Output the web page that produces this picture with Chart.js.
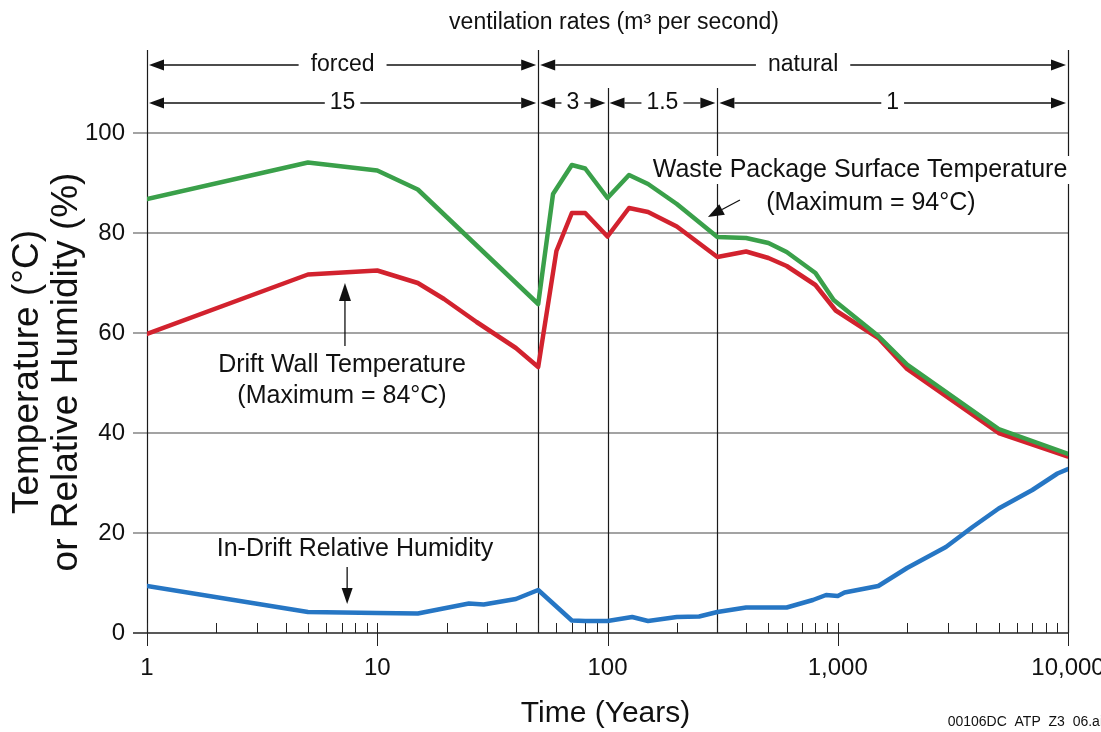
<!DOCTYPE html>
<html>
<head>
<meta charset="utf-8">
<script src="https://cdn.jsdelivr.net/npm/chart.js@4.4.0/dist/chart.umd.min.js"></script>
<style>
  html, body { margin: 0; padding: 0; background: #fff; }
  #wrap { width: 1101px; height: 732px; }
</style>
</head>
<body>
<div id="wrap"><canvas id="chart" width="1101" height="732"></canvas></div>
<script>
// Waste package surface temperature (deg C) vs time (years)
const wasteYears = [1, 5, 10, 15, 50, 58, 70, 80, 100, 124, 150, 200, 300, 400, 500, 600, 800, 960, 1500, 2000, 5000, 10000];
const wasteTemp  = [86.8, 94.1, 92.5, 88.7, 65.8, 87.8, 93.6, 92.9, 87.0, 91.6, 89.8, 85.8, 79.2, 79.0, 78.0, 76.2, 72.0, 66.6, 59.4, 53.7, 40.8, 35.8];

// Drift wall temperature (deg C)
const wallYears = [1, 5, 10, 15, 19.5, 27, 40, 50, 60, 70, 80, 100, 124, 150, 200, 300, 400, 500, 600, 800, 980, 1500, 2000, 5000, 10000];
const wallTemp  = [59.8, 71.7, 72.5, 70.0, 66.8, 62.2, 57.0, 53.2, 76.4, 84.0, 84.0, 79.3, 85.0, 84.2, 81.3, 75.2, 76.3, 75.0, 73.4, 69.6, 64.5, 59.0, 52.8, 40.0, 35.3];

// In-drift relative humidity (%)
const rhYears = [1, 5, 10, 15, 25, 29, 40, 50, 70, 80, 100, 128, 150, 200, 250, 300, 400, 600, 780, 890, 1000, 1070, 1500, 2000, 2950, 3850, 5000, 7000, 9000, 10000];
const rhValue = [9.4, 4.2, 4.0, 3.9, 5.9, 5.7, 6.8, 8.6, 2.5, 2.4, 2.4, 3.2, 2.4, 3.2, 3.3, 4.2, 5.1, 5.1, 6.6, 7.6, 7.4, 8.1, 9.4, 13.0, 17.2, 21.2, 24.9, 28.6, 31.9, 32.8];

const xTickValues = [1, 10, 100, 1000, 10000];
const xTickLabels = ['1', '10', '100', '1,000', '10,000'];
const yTickValues = [0, 20, 40, 60, 80, 100];

// ventilation regimes and rates (m3/s) with their time boundaries
const regimeNames  = ['forced', 'natural'];
const regimeBounds = [1, 50, 10000];
const rateNames    = ['15', '3', '1.5', '1'];
const rateBounds   = [1, 50, 100, 300, 10000];

const FONT = '"Liberation Sans", Arial, Helvetica, sans-serif';
const WASTE_LINE1 = 'Waste Package Surface Temperature';
const WASTE_LINE2 = '(Maximum = 94°C)';

function toPoints(xs, ys) {
    return xs.map((t, i) => ({ x: t, y: ys[i] }));
}

// filled arrow head at (x2, y2), shaft from (x1, y1)
function drawArrow(ctx, x1, y1, x2, y2, headLen = 15, headHalf = 5.5) {
    const ang = Math.atan2(y2 - y1, x2 - x1);
    const bx = x2 - headLen * Math.cos(ang);
    const by = y2 - headLen * Math.sin(ang);
    ctx.beginPath();
    ctx.moveTo(x1, y1);
    ctx.lineTo(bx, by);
    ctx.stroke();
    ctx.beginPath();
    ctx.moveTo(x2, y2);
    ctx.lineTo(bx + headHalf * Math.sin(ang), by - headHalf * Math.cos(ang));
    ctx.lineTo(bx - headHalf * Math.sin(ang), by + headHalf * Math.cos(ang));
    ctx.closePath();
    ctx.fill();
}

// a labelled span between two times: <---- label ---->
function drawSpan(ctx, xScale, t0, t1, label, py) {
    const xa = xScale.getPixelForValue(t0) + 2;
    const xb = xScale.getPixelForValue(t1) - 2;
    const cx = (xa + xb) / 2;
    const w = ctx.measureText(label).width;
    const gap = label.length > 3 ? 12 : 5;
    ctx.fillText(label, cx, py);
    drawArrow(ctx, cx - w / 2 - gap, py, xa, py);
    drawArrow(ctx, cx + w / 2 + gap, py, xb, py);
}

function wasteLabelPos(x, y) {
    return {
        x1: x.getPixelForValue(1250), y1: y.getPixelForValue(92.6),
        x2: x.getPixelForValue(1394), y2: y.getPixelForValue(86.0)
    };
}

const framePlugin = {
    id: 'framePlugin',
    beforeDatasetsDraw(chart) {
        const { ctx, chartArea: a, scales: { x, y } } = chart;
        ctx.save();

        // horizontal grid lines with left ticks
        ctx.strokeStyle = '#858585';
        ctx.lineWidth = 1.5;
        yTickValues.forEach(v => {
            if (v === 0) return;
            const py = Math.round(y.getPixelForValue(v));
            ctx.beginPath();
            ctx.moveTo(a.left - 14, py);
            ctx.lineTo(a.right, py);
            ctx.stroke();
        });

        // vertical boundary lines (period limits)
        ctx.strokeStyle = '#1a1a1a';
        ctx.lineWidth = 1.2;
        rateBounds.forEach(t => {
            const px = Math.round(x.getPixelForValue(t)) + 0.5;
            const top = regimeBounds.includes(t) ? a.top - 83 : a.top - 45;
            ctx.beginPath();
            ctx.moveTo(px, top);
            ctx.lineTo(px, a.bottom);
            ctx.stroke();
        });

        // x axis line
        ctx.strokeStyle = '#222';
        ctx.lineWidth = 1.5;
        ctx.beginPath();
        ctx.moveTo(a.left - 14, a.bottom);
        ctx.lineTo(a.right, a.bottom);
        ctx.stroke();

        // minor ticks inside, major ticks crossing
        ctx.lineWidth = 1;
        for (let d = 0; d < xTickValues.length - 1; d++) {
            for (let m = 2; m <= 9; m++) {
                const px = Math.round(x.getPixelForValue(xTickValues[d] * m)) + 0.5;
                ctx.beginPath();
                ctx.moveTo(px, a.bottom);
                ctx.lineTo(px, a.bottom - 10);
                ctx.stroke();
            }
        }
        xTickValues.forEach(t => {
            const px = Math.round(x.getPixelForValue(t)) + 0.5;
            ctx.beginPath();
            ctx.moveTo(px, a.bottom - 10);
            ctx.lineTo(px, a.bottom + 13);
            ctx.stroke();
        });

        // white knock-out behind the waste package label (hides frame lines only)
        ctx.font = '25px ' + FONT;
        const p = wasteLabelPos(x, y);
        const w1 = ctx.measureText(WASTE_LINE1).width;
        const w2 = ctx.measureText(WASTE_LINE2).width;
        ctx.fillStyle = '#fff';
        ctx.fillRect(p.x1 - w1 / 2 - 3, p.y1 - 14, w1 + 6, 28);
        ctx.fillRect(p.x2 - w2 / 2 - 3, p.y2 - 14, w2 + 6, 28);
        ctx.restore();
    },
    afterDatasetsDraw(chart) {
        const { ctx, chartArea: a, scales: { x, y } } = chart;
        ctx.save();
        ctx.fillStyle = '#111';
        ctx.strokeStyle = '#111';
        ctx.textAlign = 'center';
        ctx.textBaseline = 'middle';

        // tick labels
        ctx.font = '24px ' + FONT;
        xTickValues.forEach((t, i) => {
            ctx.fillText(xTickLabels[i], x.getPixelForValue(t), a.bottom + 35);
        });
        ctx.textAlign = 'right';
        yTickValues.forEach(v => {
            ctx.fillText(String(v), a.left - 22, y.getPixelForValue(v));
        });

        // axis titles
        ctx.textAlign = 'center';
        ctx.font = '30px ' + FONT;
        ctx.fillText('Time (Years)', (a.left + a.right) / 2 - 2, a.bottom + 81);
        ctx.save();
        ctx.translate(28, 372);
        ctx.rotate(-Math.PI / 2);
        ctx.font = '37px ' + FONT;
        ctx.fillText('Temperature (°C)', 0, 0);
        ctx.fillText('or Relative Humidity (%)', 0, 39);
        ctx.restore();

        // ventilation header
        ctx.font = '23px ' + FONT;
        ctx.fillText('ventilation rates (m³ per second)', 614, 23);
        ctx.lineWidth = 1.3;
        regimeNames.forEach((n, i) => drawSpan(ctx, x, regimeBounds[i], regimeBounds[i + 1], n, a.top - 68));
        rateNames.forEach((n, i) => drawSpan(ctx, x, rateBounds[i], rateBounds[i + 1], n, a.top - 30));

        // curve annotations
        ctx.font = '25px ' + FONT;
        const p = wasteLabelPos(x, y);
        ctx.fillText(WASTE_LINE1, p.x1, p.y1);
        ctx.fillText(WASTE_LINE2, p.x2, p.y2);
        drawArrow(ctx, x.getPixelForValue(376), y.getPixelForValue(86.6), x.getPixelForValue(273), y.getPixelForValue(83.2), 16, 6);

        const dx = x.getPixelForValue(7.03);
        ctx.fillText('Drift Wall Temperature', dx, y.getPixelForValue(53.6));
        ctx.fillText('(Maximum = 84°C)', dx, y.getPixelForValue(47.4));
        const ax = x.getPixelForValue(7.24);
        drawArrow(ctx, ax, y.getPixelForValue(57.4), ax, y.getPixelForValue(70.0), 18, 6);

        ctx.fillText('In-Drift Relative Humidity', x.getPixelForValue(8.0), y.getPixelForValue(16.8));
        const hx = x.getPixelForValue(7.4);
        drawArrow(ctx, hx, y.getPixelForValue(13.2), hx, y.getPixelForValue(5.8), 16, 5.5);

        // file tag
        ctx.font = '14px ' + FONT;
        ctx.textAlign = 'right';
        ctx.fillText('00106DC  ATP  Z3  06.ai', 1103, 722);
        ctx.restore();
    }
};

const lineStyle = {
    borderWidth: 4.5,
    pointRadius: 0,
    tension: 0,
    fill: false,
    borderJoinStyle: 'round',
    borderCapStyle: 'round'
};

new Chart(document.getElementById('chart'), {
    type: 'line',
    data: {
        datasets: [
            { label: 'In-Drift Relative Humidity', data: toPoints(rhYears, rhValue), borderColor: 'rgb(38, 118, 196)', ...lineStyle },
            { label: 'Waste Package Surface Temperature', data: toPoints(wasteYears, wasteTemp), borderColor: 'rgb(58, 160, 74)', ...lineStyle },
            { label: 'Drift Wall Temperature', data: toPoints(wallYears, wallTemp), borderColor: 'rgb(210, 34, 46)', ...lineStyle }
        ]
    },
    options: {
        responsive: false,
        animation: false,
        devicePixelRatio: 1,
        layout: { padding: { left: 147, right: 33, top: 133, bottom: 99 } },
        plugins: {
            legend: { display: false },
            tooltip: { enabled: false }
        },
        scales: {
            x: { type: 'logarithmic', min: 1, max: 10000, display: false },
            y: { type: 'linear', min: 0, max: 100, display: false }
        }
    },
    plugins: [framePlugin]
});
</script>
</body>
</html>
